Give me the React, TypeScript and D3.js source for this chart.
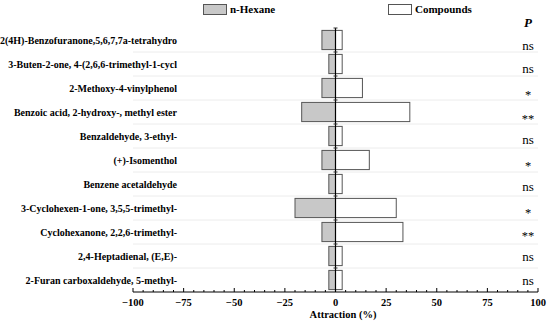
import React from "react";
import * as d3 from "d3";

const categories = [
  "2(4H)-Benzofuranone,5,6,7,7a-tetrahydro",
  "3-Buten-2-one, 4-(2,6,6-trimethyl-1-cycl",
  "2-Methoxy-4-vinylphenol",
  "Benzoic acid, 2-hydroxy-, methyl ester",
  "Benzaldehyde, 3-ethyl-",
  "(+)-Isomenthol",
  "Benzene acetaldehyde",
  "3-Cyclohexen-1-one, 3,5,5-trimethyl-",
  "Cyclohexanone, 2,2,6-trimethyl-",
  "2,4-Heptadienal, (E,E)-",
  "2-Furan carboxaldehyde, 5-methyl-",
];
const hexane = [-6.7, -3.3, -6.7, -16.7, -3.3, -6.7, -3.3, -20, -6.7, -3.3, -3.3];
const compounds = [3.3, 3.3, 13.3, 36.7, 3.3, 16.7, 3.3, 30, 33.3, 3.3, 3.3];
const significance = ["ns", "ns", "*", "**", "ns", "*", "ns", "*", "**", "ns", "ns"];
const xTicks = [-100, -75, -50, -25, 0, 25, 50, 75, 100];
const seriesNames = ["n-Hexane", "Compounds"];

const W = 550;
const H = 330;
const serif = "Liberation Serif, Times New Roman, serif";

export default function App() {
  const x = d3.scaleLinear().domain([-100, 100]).range([133, 538]);
  const y = d3.scaleBand<string>().domain(categories).range([28, 292]).paddingInner(0.2).paddingOuter(0.1);
  const sigY = d3.scaleLinear().domain([0, categories.length - 1]).range([45, 280]);
  const step = y.step();
  const bw = y.bandwidth();
  const minorTicks = d3.range(-100, 101, 5);
  const boundaries = categories.map((c) => (y(c) as number) - (step - bw) / 2);

  return (
    <svg width={W} height={H} style={{ position: "absolute", left: 0, top: 0, fontFamily: serif }}>
      <rect width={W} height={H} fill="#fff" />
      {boundaries.slice(1).map((b, i) => (
        <line key={"g" + i} x1={x(-100)} x2={x(100)} y1={b} y2={b} stroke="#ececec" strokeWidth={1} />
      ))}
      {categories.map((c, i) => (
        <g key={"b" + i}>
          <rect x={x(hexane[i])} y={y(c)} width={x(0) - x(hexane[i])} height={bw} fill="#c8c8c8" stroke="#555" strokeWidth={1} />
          <rect x={x(0)} y={y(c)} width={x(compounds[i]) - x(0)} height={bw} fill="#fff" stroke="#555" strokeWidth={1} />
        </g>
      ))}
      <line x1={x(0)} x2={x(0)} y1={boundaries[0]} y2={292} stroke="#000" strokeWidth={1.2} />
      {boundaries.map((b, i) => (
        <line key={"c" + i} x1={x(0) - 2} x2={x(0) + 2} y1={b} y2={b} stroke="#333" strokeWidth={1} />
      ))}
      {categories.map((c, i) => (
        <text key={"l" + i} x={177} y={(y(c) as number) + bw / 2} dy="0.35em" textAnchor="end" fontSize={10} fontWeight="bold" style={{ fontFamily: serif }}>
          {c}
        </text>
      ))}
      <text x={528} y={22} dy="0.35em" textAnchor="middle" fontSize={13} fontWeight="bold" fontStyle="italic" style={{ fontFamily: serif }}>P</text>
      {categories.map((c, i) => (
        <text key={"s" + i} x={528} y={sigY(i) + (significance[i] === "ns" ? 0 : 3)} dy="0.35em" textAnchor="middle" fontSize={significance[i] === "ns" ? 13 : 12.5} style={{ fontFamily: serif }}>
          {significance[i]}
        </text>
      ))}
      <line x1={x(-100)} x2={x(100)} y1={292} y2={292} stroke="#000" strokeWidth={1} />
      {minorTicks.map((t) => (
        <line key={"m" + t} x1={x(t)} x2={x(t)} y1={292} y2={xTicks.includes(t) ? 288 : 290} stroke="#000" strokeWidth={1} />
      ))}
      {xTicks.map((t) => (
        <text key={"t" + t} x={x(t)} y={302} dy="0.35em" textAnchor="middle" fontSize={10.5} fontWeight="bold" style={{ fontFamily: serif }}>
          {t < 0 ? "\u2212" + Math.abs(t) : String(t)}
        </text>
      ))}
      <text x={343} y={314} dy="0.35em" textAnchor="middle" fontSize={10.5} fontWeight="bold" style={{ fontFamily: serif }}>Attraction (%)</text>
      <rect x={203.5} y={4.5} width={23} height={10} fill="#c8c8c8" stroke="#555" strokeWidth={1} />
      <text x={230} y={9.5} dy="0.35em" fontSize={11} fontWeight="bold" style={{ fontFamily: serif }}>{seriesNames[0]}</text>
      <rect x={388.5} y={4.5} width={23} height={10} fill="#fff" stroke="#555" strokeWidth={1} />
      <text x={415} y={9.5} dy="0.35em" fontSize={11} fontWeight="bold" style={{ fontFamily: serif }}>{seriesNames[1]}</text>
    </svg>
  );
}
